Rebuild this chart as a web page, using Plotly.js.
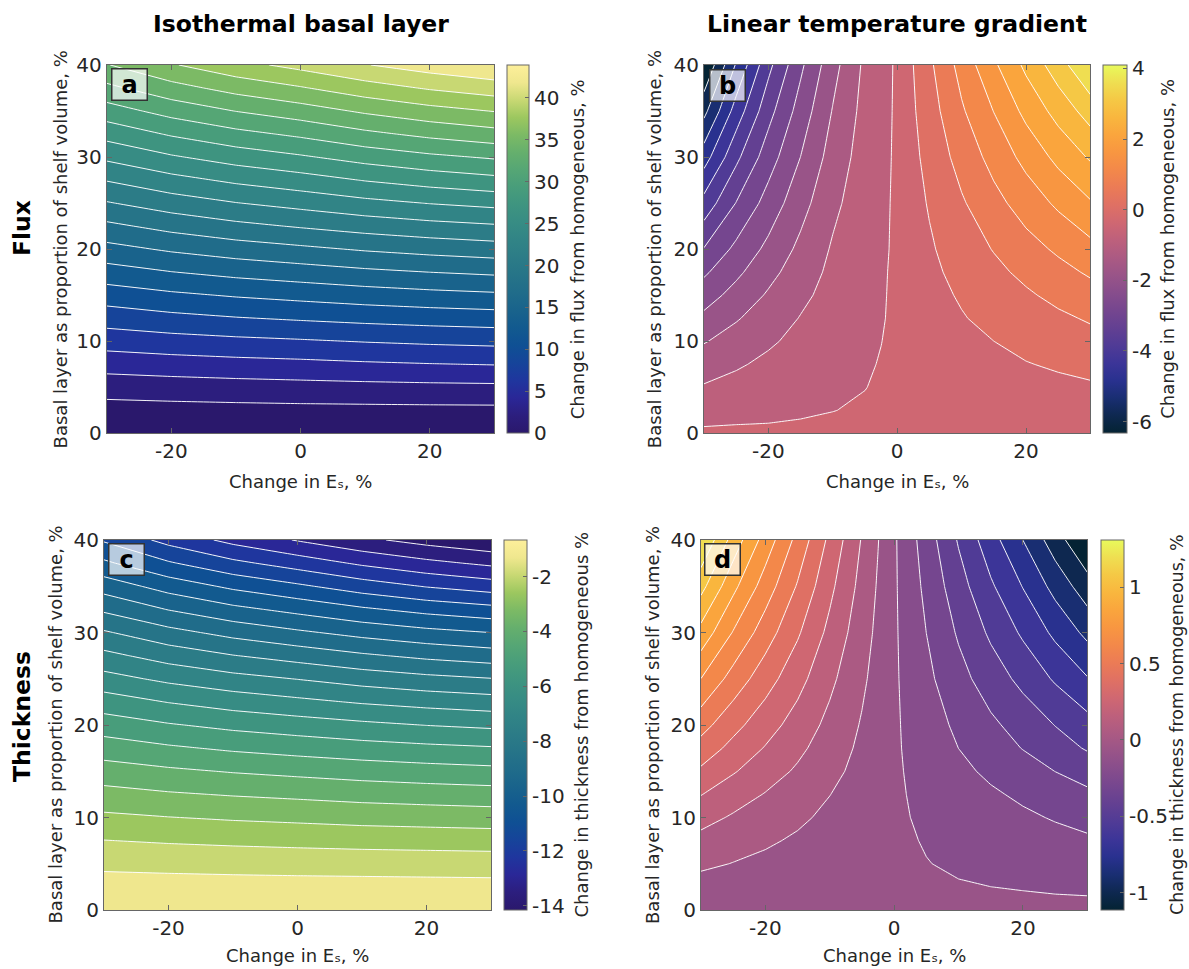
<!DOCTYPE html>
<html>
<head>
<meta charset="utf-8">
<script src="https://cdn.plot.ly/plotly-3.0.1.min.js"></script>
<style>html,body{margin:0;padding:0;background:#fff;}#chart{width:1189px;height:969px;}</style>
</head>
<body>
<div id="chart"></div>
<script>
// ---------------- DATA ----------------
// Isothermal basal layer panels (a, c)
const esIso = [-30, -20, -10, 0, 10, 20, 30];
const layerIso = [0, 2.5, 5, 7.5, 10, 12.5, 15, 17.5, 20, 22.5, 25, 27.5, 30, 32.5, 35, 37.5, 40];
const fluxIso = [
  [0, 0, 0, 0, 0, 0, 0],
  [1.32, 1.40, 1.47, 1.53, 1.56, 1.59, 1.61],
  [2.95, 3.16, 3.33, 3.47, 3.59, 3.69, 3.76],
  [5.06, 5.34, 5.57, 5.75, 6.00, 6.20, 6.35],
  [7.15, 7.56, 7.89, 8.15, 8.46, 8.71, 8.90],
  [9.30, 9.88, 10.34, 10.70, 11.04, 11.31, 11.52],
  [11.47, 12.17, 12.73, 13.17, 13.62, 13.99, 14.28],
  [13.75, 14.58, 15.24, 15.76, 16.30, 16.73, 17.08],
  [16.05, 17.01, 17.78, 18.39, 19.02, 19.52, 19.92],
  [18.35, 19.47, 20.38, 21.09, 21.77, 22.33, 22.76],
  [20.75, 21.96, 22.93, 23.70, 24.51, 25.16, 25.67],
  [23.10, 24.41, 25.48, 26.31, 27.28, 28.06, 28.68],
  [25.50, 26.94, 28.10, 29.01, 30.07, 30.93, 31.60],
  [27.92, 29.49, 30.75, 31.75, 32.97, 33.96, 34.74],
  [30.41, 32.12, 33.49, 34.57, 35.85, 36.89, 37.70],
  [32.94, 34.79, 36.28, 37.45, 38.82, 39.93, 40.80],
  [35.43, 37.44, 39.06, 40.34, 41.71, 42.81, 43.68]
];
const thickIso = [
  [-0.67, -0.67, -0.67, -0.67, -0.67, -0.67, -0.67],
  [-1.04, -1.06, -1.07, -1.08, -1.09, -1.10, -1.11],
  [-1.45, -1.49, -1.53, -1.56, -1.58, -1.60, -1.62],
  [-1.94, -2.02, -2.08, -2.13, -2.18, -2.21, -2.24],
  [-2.47, -2.58, -2.67, -2.74, -2.82, -2.87, -2.92],
  [-3.02, -3.17, -3.28, -3.37, -3.47, -3.54, -3.60],
  [-3.59, -3.77, -3.92, -4.04, -4.16, -4.26, -4.34],
  [-4.20, -4.43, -4.62, -4.77, -4.91, -5.02, -5.11],
  [-4.84, -5.11, -5.33, -5.50, -5.67, -5.82, -5.93],
  [-5.50, -5.83, -6.09, -6.30, -6.51, -6.67, -6.80],
  [-6.22, -6.59, -6.88, -7.11, -7.36, -7.56, -7.71],
  [-6.92, -7.36, -7.71, -7.99, -8.28, -8.52, -8.70],
  [-7.66, -8.17, -8.58, -8.91, -9.22, -9.47, -9.66],
  [-8.48, -9.04, -9.49, -9.84, -10.20, -10.50, -10.73],
  [-9.29, -9.92, -10.43, -10.83, -11.26, -11.62, -11.89],
  [-10.18, -10.87, -11.43, -11.87, -12.33, -12.70, -13.00],
  [-11.01, -11.79, -12.41, -12.91, -13.37, -13.74, -14.03]
];
// Linear temperature gradient panels (b, d)
const esLin = [-30, -25, -20, -15, -10, -5, -2.5, 0, 2.5, 5, 10, 15, 20, 25, 30];
const layerLin = [0, 1, 2.5, 5, 7.5, 10, 12.5, 15, 17.5, 20, 25, 30, 35, 40];
const fluxLin = [
  [-0.31, -0.31, -0.31, -0.31, -0.31, -0.31, -0.31, -0.31, -0.31, -0.31, -0.31, -0.31, -0.31, -0.31, -0.31],
  [-0.40, -0.38, -0.37, -0.35, -0.34, -0.32, -0.32, -0.31, -0.30, -0.29, -0.28, -0.27, -0.26, -0.25, -0.24],
  [-0.56, -0.51, -0.46, -0.42, -0.38, -0.35, -0.33, -0.31, -0.28, -0.26, -0.23, -0.20, -0.17, -0.15, -0.12],
  [-0.83, -0.72, -0.62, -0.52, -0.44, -0.38, -0.35, -0.31, -0.26, -0.22, -0.15, -0.09, -0.04, 0.01, 0.06],
  [-1.11, -0.93, -0.77, -0.63, -0.51, -0.41, -0.36, -0.31, -0.23, -0.17, -0.07, 0.01, 0.10, 0.18, 0.26],
  [-1.40, -1.17, -0.94, -0.74, -0.57, -0.44, -0.38, -0.31, -0.20, -0.13, 0.01, 0.12, 0.25, 0.36, 0.46],
  [-1.75, -1.41, -1.13, -0.85, -0.63, -0.46, -0.40, -0.31, -0.18, -0.08, 0.09, 0.25, 0.40, 0.53, 0.67],
  [-2.09, -1.69, -1.31, -0.98, -0.70, -0.49, -0.41, -0.31, -0.15, -0.03, 0.17, 0.38, 0.55, 0.74, 0.92],
  [-2.44, -1.97, -1.52, -1.11, -0.76, -0.52, -0.42, -0.31, -0.12, 0.01, 0.27, 0.50, 0.73, 0.96, 1.18],
  [-2.83, -2.24, -1.74, -1.25, -0.82, -0.55, -0.44, -0.31, -0.10, 0.06, 0.37, 0.64, 0.93, 1.19, 1.46],
  [-3.67, -2.84, -2.16, -1.55, -0.98, -0.60, -0.46, -0.31, -0.04, 0.16, 0.56, 0.96, 1.33, 1.70, 2.06],
  [-4.57, -3.47, -2.59, -1.86, -1.16, -0.65, -0.49, -0.31, 0.01, 0.28, 0.80, 1.28, 1.76, 2.24, 2.66],
  [-5.48, -4.13, -3.03, -2.15, -1.34, -0.71, -0.52, -0.31, 0.07, 0.40, 1.05, 1.62, 2.24, 2.78, 3.32],
  [-6.33, -4.79, -3.49, -2.46, -1.54, -0.77, -0.55, -0.31, 0.12, 0.52, 1.29, 2.02, 2.71, 3.37, 4.09]
];
const thickLin = [
  [-0.060, -0.060, -0.060, -0.060, -0.060, -0.060, -0.060, -0.060, -0.060, -0.060, -0.060, -0.060, -0.060, -0.060, -0.060],
  [-0.040, -0.044, -0.047, -0.051, -0.054, -0.057, -0.058, -0.060, -0.061, -0.061, -0.063, -0.064, -0.065, -0.067, -0.068],
  [-0.005, -0.016, -0.026, -0.034, -0.043, -0.052, -0.056, -0.060, -0.062, -0.065, -0.070, -0.075, -0.079, -0.084, -0.088],
  [0.062, 0.037, 0.017, -0.003, -0.023, -0.042, -0.051, -0.060, -0.066, -0.073, -0.085, -0.097, -0.108, -0.120, -0.131],
  [0.123, 0.086, 0.055, 0.026, -0.004, -0.032, -0.046, -0.060, -0.070, -0.080, -0.100, -0.119, -0.137, -0.156, -0.174],
  [0.194, 0.143, 0.099, 0.059, 0.018, -0.022, -0.041, -0.060, -0.075, -0.090, -0.119, -0.146, -0.172, -0.199, -0.226],
  [0.275, 0.207, 0.150, 0.097, 0.042, -0.009, -0.035, -0.060, -0.080, -0.100, -0.139, -0.175, -0.210, -0.247, -0.283],
  [0.367, 0.281, 0.208, 0.140, 0.071, 0.005, -0.028, -0.060, -0.086, -0.112, -0.164, -0.212, -0.258, -0.307, -0.354],
  [0.456, 0.352, 0.264, 0.182, 0.098, 0.018, -0.021, -0.060, -0.093, -0.126, -0.191, -0.252, -0.310, -0.372, -0.432],
  [0.545, 0.423, 0.320, 0.224, 0.125, 0.031, -0.014, -0.060, -0.098, -0.137, -0.213, -0.284, -0.352, -0.424, -0.494],
  [0.732, 0.572, 0.437, 0.311, 0.182, 0.060, 0.000, -0.060, -0.111, -0.164, -0.267, -0.363, -0.453, -0.551, -0.645],
  [0.925, 0.726, 0.558, 0.402, 0.241, 0.089, 0.015, -0.060, -0.124, -0.191, -0.320, -0.441, -0.555, -0.678, -0.797],
  [1.117, 0.879, 0.679, 0.492, 0.300, 0.118, 0.029, -0.060, -0.138, -0.218, -0.374, -0.520, -0.657, -0.806, -0.949],
  [1.310, 1.033, 0.800, 0.582, 0.359, 0.147, 0.044, -0.060, -0.152, -0.247, -0.432, -0.605, -0.768, -0.944, -1.114]
];
// colour limits
const fluxIsoRange = [0, 43.9];
const thickIsoRange = [-14.15, -0.67];
const fluxLinRange = [-6.33, 4.09];
const thickLinRange = [-1.114, 1.31];
// tick labels
const xTickVals = [-20, 0, 20];
const xTickText = ['-20', '0', '20'];
const yTickVals = [0, 10, 20, 30, 40];
const yTickText = ['0', '10', '20', '30', '40'];
const cbA = [0, 5, 10, 15, 20, 25, 30, 35, 40];
const cbAText = ['0', '5', '10', '15', '20', '25', '30', '35', '40'];
const cbB = [-6, -4, -2, 0, 2, 4];
const cbBText = ['-6', '-4', '-2', '0', '2', '4'];
const cbC = [-14, -12, -10, -8, -6, -4, -2];
const cbCText = ['-14', '-12', '-10', '-8', '-6', '-4', '-2'];
const cbD = [-1, -0.5, 0, 0.5, 1];
const cbDText = ['-1', '-0.5', '0', '0.5', '1'];

// ---------------- STYLE ----------------
const FONT = 'DejaVu Sans, Verdana, sans-serif';
const TXT = '#262626';
const AX = '#666666';
const haline = [
  [0.000, '#2a186c'], [0.048, '#2c1e7e'], [0.095, '#2a2797'], [0.143, '#1f369e'],
  [0.190, '#16449a'], [0.238, '#0f5094'], [0.286, '#125a8f'], [0.333, '#19638c'],
  [0.381, '#206c8a'], [0.429, '#267488'], [0.476, '#2c7c87'], [0.524, '#318486'],
  [0.571, '#378c84'], [0.619, '#3e9480'], [0.667, '#489d7b'], [0.714, '#55a675'],
  [0.762, '#65af6d'], [0.810, '#7cba65'], [0.857, '#9cc75f'], [0.905, '#c8d873'],
  [0.952, '#efe78e'], [1.000, '#fdef9a']
];
const thermal = [
  [0.000, '#042333'], [0.048, '#0e2850'], [0.095, '#192e72'], [0.143, '#29318f'],
  [0.190, '#3c3598'], [0.238, '#503b96'], [0.286, '#634092'], [0.333, '#75468f'],
  [0.381, '#874d8c'], [0.429, '#995488'], [0.476, '#ab5a83'], [0.524, '#bd607c'],
  [0.571, '#cf6772'], [0.619, '#df7064'], [0.667, '#eb7b56'], [0.714, '#f3884a'],
  [0.762, '#f89641'], [0.810, '#faa53d'], [0.857, '#f9b63e'], [0.905, '#f5c845'],
  [0.952, '#efde51'], [1.000, '#e8fa5b']
];
function hexToRgb(h) { const n = parseInt(h.slice(1), 16); return [(n >> 16) & 255, (n >> 8) & 255, n & 255]; }
function colorAt(scale, s) {
  for (let i = 1; i < scale.length; i++) {
    if (s <= scale[i][0] + 1e-12) {
      const s0 = scale[i - 1][0], s1 = scale[i][0];
      const a = hexToRgb(scale[i - 1][1]), b = hexToRgb(scale[i][1]);
      const t = (s - s0) / (s1 - s0);
      return 'rgb(' + a.map((v, k) => Math.round(v + (b[k] - v) * t)).join(',') + ')';
    }
  }
  return scale[scale.length - 1][1];
}
// band k (k = 0..20) takes the colour of its lower level, as in the reference
function bandScale(scale, f) {
  const out = [];
  for (let i = 0; i <= 60; i++) { const s = i / 60; out.push([s, colorAt(scale, s * f)]); }
  return out;
}
const NLEV = 20;

function panel(xa, ya, x, y, z, range, base, cb) {
  const d = (range[1] - range[0]) / (NLEV + 1);
  return [
    { type: 'heatmap', x: x, y: y, z: z, xaxis: xa, yaxis: ya, zmin: range[0], zmax: range[1],
      colorscale: base, showscale: true, colorbar: cb, hoverinfo: 'skip' },
    { type: 'contour', x: x, y: y, z: z, xaxis: xa, yaxis: ya, autocontour: false,
      contours: { start: range[0] + d, end: range[0] + NLEV * d + d * 0.01, size: d, coloring: 'fill', showlines: true },
      colorscale: bandScale(base, NLEV / (NLEV + 1)), showscale: false,
      line: { color: 'rgba(255,255,255,0.95)', width: 1, smoothing: 0 }, hoverinfo: 'skip' }
  ];
}
function cbar(xLeft, yMid, len, thick, vals, text) {
  return { x: xLeft / 1189, xanchor: 'left', y: yMid, yanchor: 'middle', len: len, lenmode: 'fraction',
    thickness: thick, thicknessmode: 'pixels', xpad: 0, ypad: 0, outlinewidth: 1, outlinecolor: AX,
    tickmode: 'array', tickvals: vals, ticktext: text, ticks: 'inside', ticklen: 4, tickcolor: AX,
    tickfont: { family: FONT, size: 20, color: TXT } };
}
const topMid = 1 - 249.2 / 969, botMid = 1 - 725 / 969;
const topLen = 368.3 / 969, botLen = 370 / 969;

const traces = [].concat(
  panel('x', 'y', esIso, layerIso, fluxIso, fluxIsoRange, haline, cbar(506.9, topMid, topLen, 22, cbA, cbAText)),
  panel('x2', 'y2', esLin, layerLin, fluxLin, fluxLinRange, thermal, cbar(1103.4, topMid, topLen, 23.5, cbB, cbBText)),
  panel('x3', 'y3', esIso, layerIso, thickIso, thickIsoRange, haline, cbar(504.2, botMid, botLen, 22.5, cbC, cbCText)),
  panel('x4', 'y4', esLin, layerLin, thickLin, thickLinRange, thermal, cbar(1101.1, botMid, botLen, 22.5, cbD, cbDText))
);

function xax(l, r, anchor) {
  return { domain: [l / 1189, r / 1189], anchor: anchor, range: [-30, 30], tickmode: 'array', tickvals: xTickVals, ticktext: xTickText,
    ticks: 'inside', ticklen: 5, tickcolor: AX, showline: true, linecolor: AX, linewidth: 1, mirror: 'ticks',
    showgrid: false, zeroline: false, tickfont: { family: FONT, size: 20, color: TXT }, fixedrange: true };
}
function yax(t, b, anchor) {
  return { domain: [1 - b / 969, 1 - t / 969], anchor: anchor, range: [0, 40], tickmode: 'array', tickvals: yTickVals, ticktext: yTickText,
    ticks: 'inside', ticklen: 5, tickcolor: AX, showline: true, linecolor: AX, linewidth: 1, mirror: 'ticks',
    showgrid: false, zeroline: false, tickfont: { family: FONT, size: 20, color: TXT }, fixedrange: true };
}

function txt(text, xpx, ypx, size, opts) {
  return Object.assign({ text: text, x: xpx / 1189, y: 1 - ypx / 969, xref: 'paper', yref: 'paper',
    xanchor: 'center', yanchor: 'middle', showarrow: false, font: { family: FONT, size: size, color: TXT } }, opts || {});
}
function label(letter, xpx, ypx) {
  return { text: '<b>' + letter + '</b>', x: xpx / 1189, y: 1 - ypx / 969, xref: 'paper', yref: 'paper',
    xanchor: 'left', yanchor: 'top', showarrow: false, width: 34, height: 30, borderpad: 0, borderwidth: 1.5,
    bordercolor: '#333333', bgcolor: 'rgba(255,255,255,0.7)', align: 'center', valign: 'middle',
    font: { family: FONT, size: 24, color: '#000' } };
}
const bold = { family: FONT, size: 23.5, color: '#000' };
const xTitle = 'Change in E\u209B, %';
const annotations = [
  txt('<b>Isothermal basal layer</b>', 300.5, 24, 23.5, { font: bold }),
  txt('<b>Linear temperature gradient</b>', 897.2, 24, 23.5, { font: bold }),
  txt('<b>Flux</b>', 22, 228, 23.5, { font: bold, textangle: -90 }),
  txt('<b>Thickness</b>', 22, 717, 23.5, { font: bold, textangle: -90 }),
  txt(xTitle, 300.5, 481, 18),
  txt(xTitle, 897.2, 481, 18),
  txt(xTitle, 297.5, 955, 18),
  txt(xTitle, 894.2, 955, 18),
  txt('Basal layer as proportion of shelf volume, %', 60.2, 249.2, 18, { textangle: -90 }),
  txt('Basal layer as proportion of shelf volume, %', 654, 249.2, 18, { textangle: -90 }),
  txt('Basal layer as proportion of shelf volume, %', 54.5, 725, 18, { textangle: -90 }),
  txt('Basal layer as proportion of shelf volume, %', 652, 725, 18, { textangle: -90 }),
  txt('Change in flux from homogeneous, %', 577, 249.2, 18, { textangle: -90 }),
  txt('Change in flux from homogeneous, %', 1167.6, 249.2, 18, { textangle: -90 }),
  txt('Change in thickness from homogeneous %', 580.5, 725, 18, { textangle: -90 }),
  txt('Change in thickness from homogeneous, %', 1177, 725, 17.5, { textangle: -90 }),
  label('a', 110.9, 68.3),
  label('b', 708.6, 69.3),
  label('c', 107.9, 543.3),
  label('d', 704, 543)
];

const layout = {
  width: 1189, height: 969, margin: { l: 0, r: 0, t: 0, b: 0, pad: 0 },
  paper_bgcolor: '#ffffff', plot_bgcolor: '#ffffff', showlegend: false,
  font: { family: FONT, color: TXT },
  xaxis: xax(106.7, 494.3, 'y'), yaxis: yax(65, 433.3, 'x'),
  xaxis2: xax(704, 1090.4, 'y2'), yaxis2: yax(65, 433.3, 'x2'),
  xaxis3: xax(104, 491, 'y3'), yaxis3: yax(540, 910, 'x3'),
  xaxis4: xax(701, 1087.3, 'y4'), yaxis4: yax(540, 910, 'x4'),
  annotations: annotations
};
Plotly.newPlot('chart', traces, layout, { displayModeBar: false, responsive: false });
</script>
</body>
</html>
